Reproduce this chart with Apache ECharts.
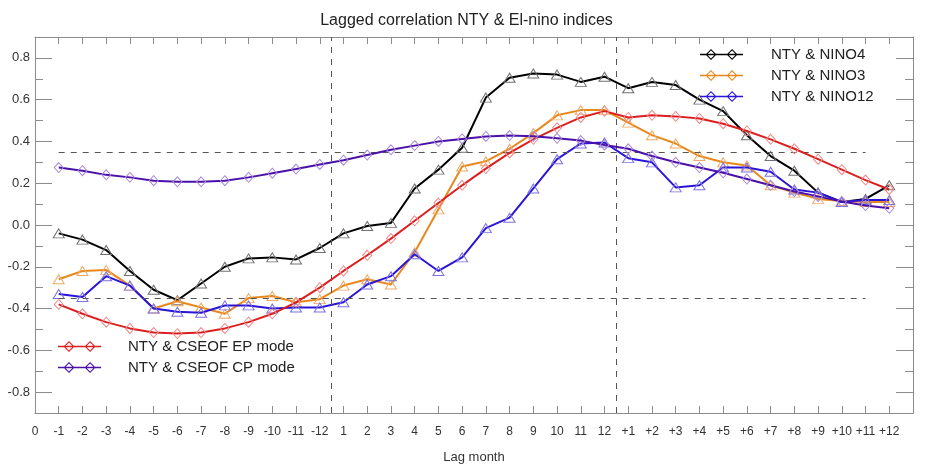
<!DOCTYPE html>
<html><head><meta charset="utf-8">
<script src="https://cdn.jsdelivr.net/npm/echarts@6/dist/echarts.min.js"></script>
<style>html,body{margin:0;padding:0;background:#fff}#c{width:933px;height:473px}</style>
</head><body><div id="c"></div>
<script>
const tickLabels = ['0','-1','-2','-3','-4','-5','-6','-7','-8','-9','-10','-11','-12',
  '1','2','3','4','5','6','7','8','9','10','11','12',
  '+1','+2','+3','+4','+5','+6','+7','+8','+9','+10','+11','+12'];
const seriesNames = ['NTY & NINO4','NTY & NINO3','NTY & NINO12','NTY & CSEOF EP mode','NTY & CSEOF CP mode'];
const nino4 = [-0.04,-0.07,-0.12,-0.22,-0.31,-0.36,-0.28,-0.20,-0.16,-0.155,-0.165,-0.11,
  -0.04,-0.005,0.01,0.175,0.265,0.37,0.61,0.705,0.725,0.72,0.685,0.71,
  0.655,0.685,0.67,0.60,0.545,0.43,0.33,0.26,0.155,0.11,0.125,0.19];
const nino3 = [-0.26,-0.22,-0.215,-0.29,-0.40,-0.365,-0.395,-0.425,-0.35,-0.34,-0.37,-0.355,
  -0.29,-0.26,-0.285,-0.13,0.075,0.28,0.305,0.365,0.44,0.525,0.55,0.55,
  0.49,0.43,0.39,0.33,0.30,0.285,0.19,0.155,0.125,0.115,0.11,0.11];
const nino12 = [-0.33,-0.345,-0.245,-0.29,-0.40,-0.415,-0.42,-0.385,-0.385,-0.40,-0.395,-0.395,
  -0.37,-0.285,-0.245,-0.14,-0.22,-0.155,-0.015,0.035,0.175,0.315,0.39,0.395,
  0.32,0.30,0.18,0.19,0.275,0.275,0.255,0.17,0.155,0.11,0.12,0.12];
const epMode = [-0.38,-0.425,-0.465,-0.495,-0.515,-0.52,-0.515,-0.495,-0.465,-0.425,-0.37,-0.30,
  -0.22,-0.145,-0.065,0.02,0.105,0.19,0.27,0.345,0.41,0.465,0.515,0.545,
  0.515,0.525,0.52,0.51,0.485,0.45,0.41,0.365,0.315,0.265,0.215,0.17];
const cpMode = [0.275,0.26,0.24,0.228,0.212,0.207,0.207,0.212,0.228,0.248,0.268,0.29,
  0.31,0.335,0.36,0.38,0.40,0.412,0.424,0.428,0.425,0.415,0.404,0.383,
  0.365,0.33,0.30,0.275,0.25,0.22,0.19,0.16,0.137,0.112,0.093,0.08];
const yMajor = [-0.8,-0.6,-0.4,-0.2,0,0.2,0.4,0.6,0.8];
const yMinor = [-0.7,-0.5,-0.3,-0.1,0.1,0.3,0.5,0.7];
const refLevels = [0.35,-0.35];
const refSpan = [1,35];
const splitPositions = [12.5,24.5];

const lineColors = ['#000000','#e8881c','#2a14d8','#dc1e1e','#4a10a8'];
const markColors = ['#707070','#f0aa66','#7c72e4','#f08a8a','#a88ada'];
const markSymbols = ['triangle','triangle','triangle','diamond','diamond'];
const values = [nino4,nino3,nino12,epMode,cpMode];

const frame = '#8c8c8c';
const legendIcon = 'path://M0 5.3L47 5.3L47 6.7L0 6.7Z M12 0L18 6L12 12L6 6Z M12 1.6L7.6 6L12 10.4L16.4 6Z M35 0L41 6L35 12L29 6Z M35 1.6L30.6 6L35 10.4L39.4 6Z';
const font = "'Liberation Sans', Helvetica, Arial, sans-serif";
const narrow = "'Liberation Sans Narrow', 'Liberation Sans', sans-serif";

const dash = {color:'#555', type:[6,6], width:1};
const series = values.map((vals,k)=>({
  name: seriesNames[k], type:'line',
  data: vals.map((v,i)=>[i+1,v]),
  symbol: markSymbols[k],
  symbolSize: markSymbols[k]==='triangle' ? [11,9] : [9,10],
  itemStyle: {color:'rgba(0,0,0,0)', borderColor: markColors[k], borderWidth:1},
  lineStyle: {color: lineColors[k], width:2},
  emphasis: {disabled:true},
  z: 2 + k
}));
series[0].markLine = {
  silent:true, symbol:'none', label:{show:false}, lineStyle:dash, animation:false,
  data: [
    ...splitPositions.map(x=>({xAxis:x})),
    ...refLevels.map(y=>[{coord:[refSpan[0],y]},{coord:[refSpan[1],y]}])
  ]
};

function legendData(idx){
  return idx.map(k=>({name:seriesNames[k], icon:legendIcon, itemStyle:{color:lineColors[k], borderWidth:0}}));
}

const option = {
  animation:false,
  backgroundColor:'#fff',
  title:{text:'Lagged correlation NTY & El-nino indices', left:'center', top:8,
    textStyle:{fontSize:16, fontWeight:'normal', color:'#222', fontFamily:font}},
  grid:{left:35, right:20, top:37, bottom:60},
  legend:[
    {data:legendData([0,1,2]), orient:'vertical', left:700, top:47, itemWidth:47, itemHeight:11, itemGap:6, padding:0,
      textStyle:{fontSize:15, color:'#222', fontFamily:font, padding:[0,0,0,21], lineHeight:15}},
    {data:legendData([3,4]), orient:'vertical', left:58, top:339, itemWidth:47, itemHeight:11, itemGap:6, padding:0,
      textStyle:{fontSize:15, color:'#222', fontFamily:font, padding:[0,0,0,20], lineHeight:15}}
  ],
  xAxis:[
    {type:'value', min:0, max:37, interval:1, position:'bottom',
      name:'Lag month', nameLocation:'middle', nameGap:38,
      nameTextStyle:{fontSize:13, color:'#333', fontFamily:narrow},
      axisLine:{show:true, onZero:false, lineStyle:{color:frame}},
      axisTick:{show:true, inside:true, length:7, lineStyle:{color:frame}},
      axisLabel:{margin:13, fontSize:12, color:'#333', fontFamily:narrow,
        formatter:v=>{const s=tickLabels[Math.round(v)]; return s===undefined?'':s;}},
      splitLine:{show:false}},
    {type:'value', min:0, max:37, interval:1, position:'top',
      axisLine:{show:true, onZero:false, lineStyle:{color:frame}},
      axisTick:{show:true, inside:true, length:7, lineStyle:{color:frame}},
      axisLabel:{show:false}, splitLine:{show:false}}
  ],
  yAxis:[
    {type:'value', min:-0.9, max:0.9, position:'left',
      axisLine:{show:true, onZero:false, lineStyle:{color:frame}},
      axisTick:{show:true, inside:true, length:17, customValues:yMajor, lineStyle:{color:frame}},
      axisLabel:{customValues:yMajor, margin:5, fontSize:13, color:'#333', fontFamily:font, formatter:v=>v.toFixed(1)},
      splitLine:{show:false}},
    {type:'value', min:-0.9, max:0.9, position:'left',
      axisLine:{show:false, onZero:false},
      axisTick:{show:true, inside:true, length:8, customValues:yMinor, lineStyle:{color:frame}},
      axisLabel:{show:false}, splitLine:{show:false}},
    {type:'value', min:-0.9, max:0.9, position:'right',
      axisLine:{show:true, onZero:false, lineStyle:{color:frame}},
      axisTick:{show:true, inside:true, length:17, customValues:yMajor, lineStyle:{color:frame}},
      axisLabel:{show:false}, splitLine:{show:false}},
    {type:'value', min:-0.9, max:0.9, position:'right',
      axisLine:{show:false, onZero:false},
      axisTick:{show:true, inside:true, length:8, customValues:yMinor, lineStyle:{color:frame}},
      axisLabel:{show:false}, splitLine:{show:false}}
  ],
  series: series
};
const chart = echarts.init(document.getElementById('c'), null, {renderer:'canvas'});
chart.setOption(option);
</script>
</body></html>
